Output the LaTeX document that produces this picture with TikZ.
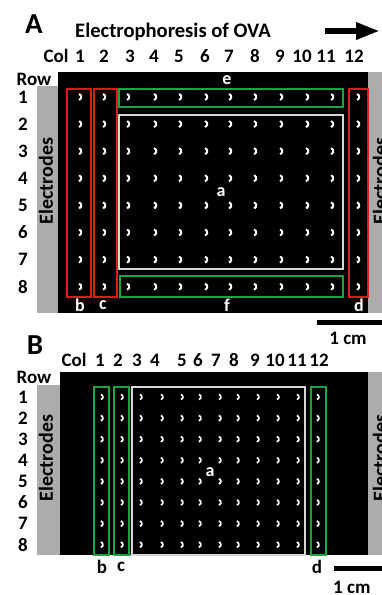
\documentclass[tikz,border=0pt]{standalone}
\usepackage{fontspec}
\setmainfont{Carlito}
\usetikzlibrary{arrows.meta}

\definecolor{rahmenrot}{RGB}{225,25,25}
\definecolor{rahmengruen}{RGB}{25,165,60}
\definecolor{rahmenweiss}{RGB}{215,215,215}
\definecolor{elektrodengrau}{RGB}{172,172,172}

\begin{document}
\begin{tikzpicture}[x=1pt,y=-1pt,
		gross/.style={font=\bfseries\fontsize{29}{29}\selectfont, inner sep=0pt},
		titel/.style={font=\bfseries\fontsize{20.6}{20.6}\selectfont, inner sep=0pt},
		zahl/.style={font=\bfseries\fontsize{19}{19}\selectfont, inner sep=0pt},
		feld/.style={font=\bfseries\fontsize{18}{18}\selectfont, text=white, inner sep=0pt},
		elektrode/.style={font=\bfseries\fontsize{20}{20}\selectfont, rotate=90, inner sep=0pt},
		rotbox/.style={draw=rahmenrot, line width=1.4pt},
		gruenbox/.style={draw=rahmengruen, line width=1.4pt},
		weissbox/.style={draw=rahmenweiss, line width=1.4pt},
		mond/.style={draw=white, line width=2pt}]
		
		\useasboundingbox (0,0) rectangle (382,595);
		\clip (0,0) rectangle (382,595);
		
		% Teil A: Ueberschrift
		\node[gross] (buchstabeA) at (34,24) {A};
		\node[titel, anchor=base west] (titelA) at (75,37) {Electrophoresis of OVA};
		\coordinate (pfeilstart) at (325,31);
		\coordinate (pfeilende) at (380,31);
		\draw[line width=6pt, -{Triangle[length=24pt,width=16pt]}] (pfeilstart) -- (pfeilende);
		
		% Teil A: Bild
		\fill[elektrodengrau] (37,86) rectangle (58,313);
		\fill[black] (58,72) rectangle (368,313);
		\fill[elektrodengrau] (368,72) rectangle (382,313);
		\node[elektrode] (elektrodeAl) at (46,181) {Electrodes};
		\node[elektrode] (elektrodeAr) at (380,181) {Electrodes};
		
		% Teil A: Spalten und Zeilen
		\node[zahl] (colA) at (56,56) {Col};
		\node[zahl] (rowA) at (34,79) {Row};
		\foreach \i/\x/\lx in {1/80/80,2/104/104,3/128/130,4/155/154,5/180/179,6/206/205,7/230/229,8/255/255,9/281/280,10/307/302,11/332/326,12/358/354} {
			\node[zahl] (colA-\i) at (\lx,56) {\i};
			\foreach \j in {1,...,8}
				\draw[mond] (\x-2,{97+27.1*(\j-1)}) ++(-70:3.3) arc (-70:70:3.3);
		}
		\foreach \j in {1,...,8}
			\node[zahl] (rowA-\j) at (23,{97+27.1*(\j-1)}) {\j};
		
		% Teil A: Rahmen
		\draw[rotbox] (67,89) rectangle (91,297);
		\draw[rotbox] (94,89) rectangle (117,297);
		\draw[rotbox] (349,89) rectangle (368,297);
		\draw[gruenbox] (119,89) rectangle (343,107);
		\draw[weissbox] (119,115) rectangle (343,269);
		\draw[gruenbox] (120,276) rectangle (343,297);
		\node[feld] (feldAe) at (227,80) {e};
		\node[feld] (feldAa) at (221,192) {a};
		\node[feld] (feldAf) at (227,305) {f};
		\node[feld] (feldAb) at (80,305) {b};
		\node[feld] (feldAc) at (103,305) {c};
		\node[feld] (feldAd) at (359,305) {d};
		
		% Teil A: Massstab
		\fill[black] (317,320) rectangle (382,325);
		\node[zahl] (massA) at (348,338) {1 cm};
		
		% Teil B: Bild
		\node[gross] (buchstabeB) at (35,345) {B};
		\fill[elektrodengrau] (37,385) rectangle (60,555);
		\fill[black] (60,372) rectangle (368,555);
		\fill[elektrodengrau] (368,372) rectangle (382,555);
		\node[elektrode] (elektrodeBl) at (46,458) {Electrodes};
		\node[elektrode] (elektrodeBr) at (380,458) {Electrodes};
		
		% Teil B: Spalten und Zeilen
		\node[zahl] (colB) at (74,360) {Col};
		\node[zahl] (rowB) at (34,377) {Row};
		\foreach \i/\x/\lx in {1/102/100,2/122/118,3/141/137,4/162/155,5/182/182,6/200/198,7/220/216,8/238/234,9/258/255,10/278/275,11/298/297,12/318/319} {
			\node[zahl] (colB-\i) at (\lx,360) {\i};
			\foreach \j in {1,...,8}
				\draw[mond, line width=1.7pt] (\x-2,{397+21.1*(\j-1)}) ++(-70:2.9) arc (-70:70:2.9);
		}
		\foreach \j in {1,...,8}
			\node[zahl] (rowB-\j) at (23,{397+21.1*(\j-1)}) {\j};
		
		% Teil B: Rahmen
		\draw[gruenbox] (94,387) rectangle (109,555);
		\draw[gruenbox] (114,387) rectangle (129,555);
		\draw[gruenbox] (311,387) rectangle (326,555);
		\draw[weissbox] (132,387) rectangle (305,555);
		\node[feld] (feldBa) at (210,472) {a};
		\node[zahl] (feldBb) at (102,567) {b};
		\node[zahl] (feldBc) at (121,567) {c};
		\node[zahl] (feldBd) at (317,567) {d};
		
		% Teil B: Massstab
		\fill[black] (334,566) rectangle (382,571);
		\node[zahl, anchor=west] (massB) at (333,587) {1 cm};
		
	\end{tikzpicture}
\end{document}
